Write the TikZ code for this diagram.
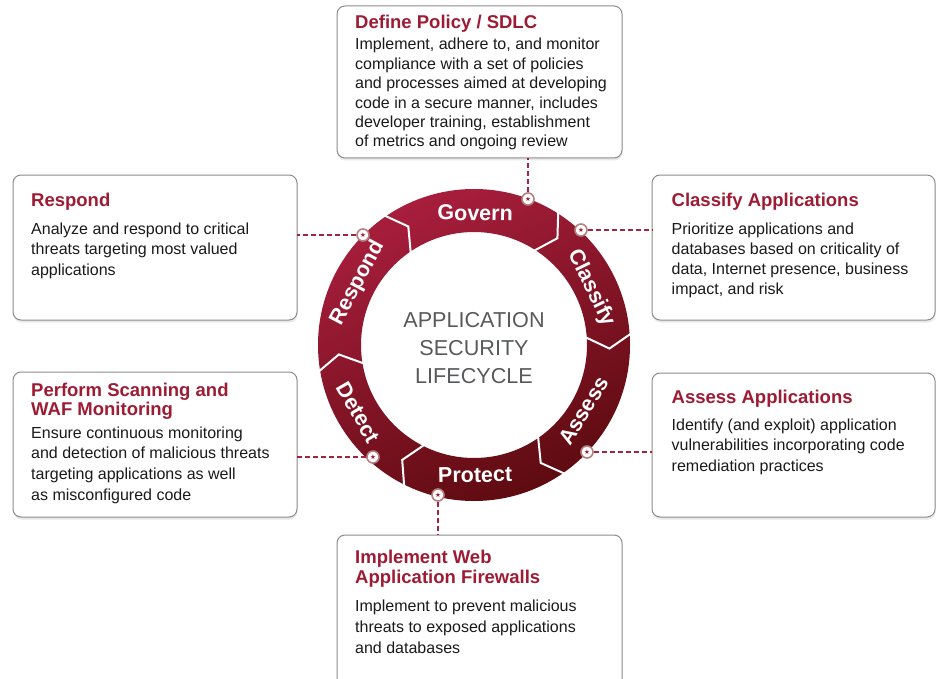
\documentclass[tikz,border=0pt]{standalone}
\usepackage{fontspec}
\setmainfont{Liberation Sans}
\newfontfamily\symfont{DejaVu Sans}
\usetikzlibrary{shadows}
\definecolor{titlered}{HTML}{9E1B34}
\definecolor{ringtop}{HTML}{A81E3D}
\definecolor{ringbot}{HTML}{5E0B10}
\definecolor{connred}{HTML}{A3243F}
\definecolor{centergray}{HTML}{58595B}
\definecolor{boxgray}{HTML}{8C8C8C}
\definecolor{markring}{HTML}{B58080}
\definecolor{bodyblack}{HTML}{1A1A1A}
\begin{document}
\begin{tikzpicture}[x=1pt,y=1pt,
  infobox/.style={draw=boxgray, line width=1pt, fill=white, rounded corners=8pt,
    inner sep=0pt, outer sep=0pt, anchor=north west,
    drop shadow={shadow xshift=0.5pt, shadow yshift=-2.5pt, opacity=0.18}},
  ttl/.style={anchor=base west, inner sep=0pt, text=titlered, font=\bfseries\fontsize{18.5}{19.5}\selectfont},
  bdy/.style={anchor=base west, inner sep=0pt, text=bodyblack, font=\fontsize{16}{19}\selectfont},
  ctext/.style={anchor=base, inner sep=0pt, text=centergray, font=\fontsize{21.6}{28}\selectfont},
  marker/.style={circle, fill=white, draw=markring, line width=1.6pt, minimum size=12pt, inner sep=0pt,
    text=titlered, font=\symfont\fontsize{6.5}{7}\selectfont},
  conn/.style={draw=connred, line width=1.3pt, dash pattern=on 5pt off 3pt},
  sepline/.style={draw=white, line width=2pt, line join=miter},
  ringlabel/.style={inner sep=0pt, text=white, font=\bfseries\fontsize{21.5}{24}\selectfont}
]
\useasboundingbox (0,0) rectangle (941,-679);

% ---------- boxes ----------
\node[infobox, minimum width=285pt, minimum height=152pt] (bTop) at (337,-6) {};
\node[infobox, minimum width=284pt, minimum height=145pt] (bResp) at (13,-175) {};
\node[infobox, minimum width=283pt, minimum height=145pt] (bClass) at (652,-175) {};
\node[infobox, minimum width=284pt, minimum height=145pt] (bDet) at (13,-372) {};
\node[infobox, minimum width=283pt, minimum height=144pt] (bAss) at (652,-373) {};
\node[infobox, minimum width=285pt, minimum height=170pt] (bProt) at (337,-535) {};

% ---------- box texts ----------
\node[ttl] (tTop) at (355,-28.3) {Define Policy / SDLC};
\foreach \t [count=\i] in {{Implement, adhere to, and monitor},{compliance with a set of policies},{and processes aimed at developing},{code in a secure manner, includes},{developer training, establishment},{of metrics and ongoing review}}
  \node[bdy] (tTop\i) at (355,{-50-19.35*(\i-1)}) {\t};

\node[ttl] (tResp) at (31,-206.6) {Respond};
\foreach \t [count=\i] in {{Analyze and respond to critical},{threats targeting most valued},{applications}}
  \node[bdy] (tResp\i) at (31,{-234-20.5*(\i-1)}) {\t};

\node[ttl] (tClass) at (671.5,-206.6) {Classify Applications};
\foreach \t [count=\i] in {{Prioritize applications and},{databases based on criticality of},{data, Internet presence, business},{impact, and risk}}
  \node[bdy] (tClass\i) at (671.5,{-234.3-20*(\i-1)}) {\t};

\node[ttl] (tDetA) at (31,-396.6) {Perform Scanning and};
\node[ttl] (tDetB) at (31,-415) {WAF Monitoring};
\foreach \t [count=\i] in {{Ensure continuous monitoring},{and detection of malicious threats},{targeting applications as well},{as misconfigured code}}
  \node[bdy] (tDet\i) at (31,{-438.3-20.6*(\i-1)}) {\t};

\node[ttl] (tAss) at (671.5,-403.3) {Assess Applications};
\foreach \t [count=\i] in {{Identify (and exploit) application},{vulnerabilities incorporating code},{remediation practices}}
  \node[bdy] (tAss\i) at (671.5,{-430-20.8*(\i-1)}) {\t};

\node[ttl] (tProtA) at (355,-563.3) {Implement Web};
\node[ttl] (tProtB) at (355,-583.3) {Application Firewalls};
\foreach \t [count=\i] in {{Implement to prevent malicious},{threats to exposed applications},{and databases}}
  \node[bdy] (tProt\i) at (355,{-611.7-20.8*(\i-1)}) {\t};

% ---------- ring ----------
\begin{scope}[shift={(474,-345)}]
  \shade[even odd rule, top color=ringtop, bottom color=ringbot, shading angle=25]
    (0,0) circle[radius=156] (0,0) circle[radius=113];
  \foreach \a in {125,58,4.5,-54.5,-116,190}
    \draw[sepline] (\a:159) -- ({\a-6}:135.5) -- (\a:110);
  \node[ringlabel, rotate=-1] (lG) at (89.5:132) {Govern};
  \node[ringlabel, rotate=-64] (lC) at (26:130) {Classify};
  \node[ringlabel, rotate=62] (lR) at (152:132) {Respond};
  \node[ringlabel, rotate=59] (lA) at (-31:128) {Assess};
  \node[ringlabel, rotate=1] (lP) at (-89.5:130) {Protect};
  \node[ringlabel, rotate=-60] (lD) at (-149.6:134) {Detect};
\end{scope}

% ---------- center title ----------
\node[ctext] (c1) at (474,-327.7) {APPLICATION};
\node[ctext] (c2) at (474,-355.7) {SECURITY};
\node[ctext] (c3) at (474,-383.7) {LIFECYCLE};

% ---------- markers ----------
\node[marker] (mG) at (528,-199) {★};
\node[marker] (mC) at (581,-230) {★};
\node[marker] (mA) at (587,-452) {★};
\node[marker] (mD) at (373,-457) {★};
\node[marker] (mP) at (438,-495) {★};
\node[marker] (mR) at (363,-235) {★};

% ---------- connectors ----------
\draw[conn] (mG) -- (mG |- bTop.south);
\draw[conn] (mC) -- (mC -| bClass.west);
\draw[conn] (mR) -- (mR -| bResp.east);
\draw[conn] (mA) -- (mA -| bAss.west);
\draw[conn] (mD) -- (mD -| bDet.east);
\draw[conn] (mP) -- (mP |- bProt.north);
\end{tikzpicture}
\end{document}
